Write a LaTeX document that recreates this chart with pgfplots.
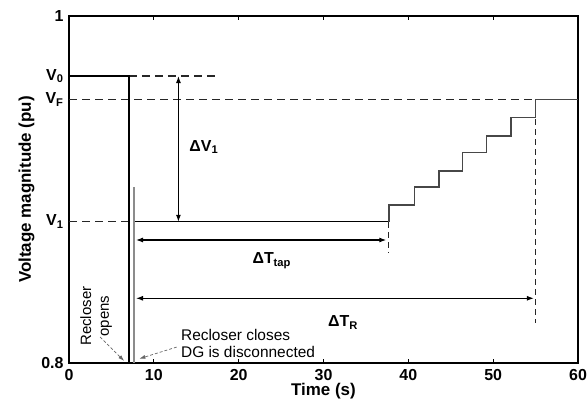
\documentclass[border=0pt]{standalone}
\usepackage{pgfplots}
\pgfplotsset{compat=1.18}
\usepackage{fontspec}
\setmainfont{Liberation Sans}
\usetikzlibrary{arrows.meta}
\begin{document}
\begin{tikzpicture}
\begin{axis}[name=ax, scale only axis, width=509bp, height=347bp,
  xmin=0, xmax=60, ymin=0.8, ymax=1,
  xtick={0,10,20,30,40,50,60}, xticklabels={0,10,20,30,40,50,60},
  ytick={0.8,0.8814,0.952,0.9654,1},
  yticklabels={0.8,V\textsubscript{1},V\textsubscript{F},V\textsubscript{0},1},
  tick label style={font=\fontsize{16}{16}\selectfont\bfseries},
  xticklabel style={yshift=-3bp},
  yticklabel style={xshift=-2bp},
  xtick pos=both, tick align=inside, major tick length=4bp,
  ytick style={draw=none},
  xtick style={line width=0.9pt, black},
  xlabel={Time (s)}, ylabel={Voltage magnitude (pu)},
  label style={font=\fontsize{17}{17}\selectfont\bfseries},
  xlabel style={yshift=4bp},
  ylabel style={yshift=0bp},
  axis line style={line width=1.3pt},
  clip=false]
% dashed reference lines
\addplot[black!85, line width=1.1pt, dash pattern=on 8bp off 5bp] coordinates {(0,0.952) (60,0.952)};
\addplot[black!85, line width=1.1pt, dash pattern=on 8bp off 5bp] coordinates {(7.07,0.9654) (17.7,0.9654)};
\addplot[black!85, line width=1.1pt, dash pattern=on 8bp off 5bp] coordinates {(0,0.8814) (7.7,0.8814)};
\addplot[black!85, line width=1.1pt, dash pattern=on 6bp off 4bp] coordinates {(37.7,0.8814) (37.7,0.8634)};
\addplot[black!85, line width=1.1pt, dash pattern=on 6bp off 4bp] coordinates {(55.0,0.952) (55.0,0.823)};
% voltage before recloser opens
\addplot[black, line width=1.3pt] coordinates {(0,0.9654) (7.07,0.9654) (7.07,0.8)};
% grey transient line at reclose
\addplot[black!45, line width=2.2pt] coordinates {(7.7,0.8) (7.7,0.9013)};
% V1 level
\addplot[black, line width=1.3pt] coordinates {(7.75,0.8814) (37.7,0.8814)};
% tap steps
\addplot[black!72, line width=1.5pt] coordinates {
 (37.7,0.8814) (37.7,0.8910) (40.7,0.8910) (40.7,0.9013) (43.6,0.9013) (43.6,0.9107)
 (46.4,0.9107) (46.4,0.9212) (49.2,0.9212) (49.2,0.9308) (52.1,0.9308) (52.1,0.9414)
 (55.0,0.9414) (55.0,0.9520) (60,0.9520)};
% dimension arrows
\addplot[black, line width=1.1pt, {Latex[length=7bp,width=5bp]}-{Latex[length=7bp,width=5bp]}] coordinates {(12.9,0.9654) (12.9,0.8814)};
\addplot[black, line width=1.1pt, {Latex[length=7bp,width=5bp]}-{Latex[length=7bp,width=5bp]}] coordinates {(7.9,0.8709) (37.4,0.8709)};
\addplot[black, line width=1.1pt, {Latex[length=7bp,width=5bp]}-{Latex[length=7bp,width=5bp]}] coordinates {(7.9,0.8373) (54.8,0.8373)};
% annotation arrows
\addplot[black!60, line width=0.7pt, densely dashed, -{Latex[length=6bp,width=4bp]}] coordinates {(3.66,0.815) (6.5,0.8012)};
\addplot[black!60, line width=0.7pt, densely dashed, -{Latex[length=6bp,width=4bp]}] coordinates {(12.7,0.8092) (8.3,0.8025)};
% labels
\node[font=\fontsize{16}{16}\selectfont\bfseries] at (axis cs:15.9,0.9245) {ΔV\textsubscript{1}};
\node[font=\fontsize{16}{16}\selectfont\bfseries] at (axis cs:23.9,0.8590) {ΔT\textsubscript{tap}};
\node[font=\fontsize{16}{16}\selectfont\bfseries] at (axis cs:32.3,0.8232) {ΔT\textsubscript{R}};
\node[font=\fontsize{15}{18}\selectfont, rotate=90, align=center] at (axis cs:3.2,0.827) {Recloser\\opens};
\node[font=\fontsize{15.5}{17}\selectfont, anchor=west, align=left] at (axis cs:12.8,0.8112) {Recloser closes\\DG is disconnected};
\end{axis}
\pgfresetboundingbox
\useasboundingbox ([shift={(-69bp,-43bp)}]ax.south west) rectangle ([shift={(9bp,16bp)}]ax.north east);
\end{tikzpicture}
\end{document}
